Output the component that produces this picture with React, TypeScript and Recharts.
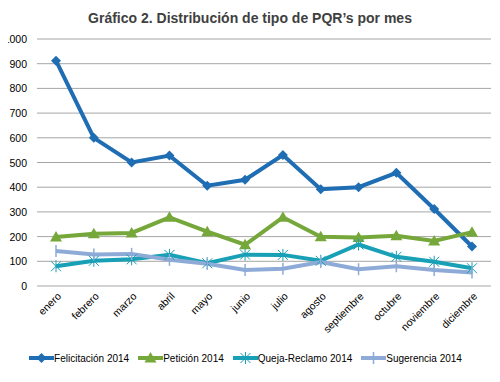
import { LineChart, Line, XAxis, YAxis, CartesianGrid, Legend } from "recharts";

const months = [
  "enero", "febrero", "marzo", "abril", "mayo", "junio",
  "julio", "agosto", "septiembre", "octubre", "noviembre", "diciembre",
];
const felicitacion = [912, 600, 500, 528, 406, 430, 530, 392, 400, 458, 312, 160];
const peticion = [198, 212, 215, 278, 220, 167, 278, 199, 196, 203, 182, 218];
const quejaReclamo = [80, 102, 108, 126, 92, 127, 126, 102, 168, 118, 98, 72];
const sugerencia = [142, 128, 130, 106, 90, 65, 70, 97, 68, 80, 65, 55];
const yTicks = [0, 100, 200, 300, 400, 500, 600, 700, 800, 900, 1000];

const series = [
  { key: "felicitacion", name: "Felicitación 2014", color: "#1f6db3", marker: "diamond" },
  { key: "peticion", name: "Petición 2014", color: "#76a73a", marker: "triangle" },
  { key: "queja", name: "Queja-Reclamo 2014", color: "#18a0b6", marker: "star" },
  { key: "sugerencia", name: "Sugerencia 2014", color: "#8eabd8", marker: "plus" },
];

const data = months.map((m, i) => ({
  month: m,
  felicitacion: felicitacion[i],
  peticion: peticion[i],
  queja: quejaReclamo[i],
  sugerencia: sugerencia[i],
}));

const FONT = "'Liberation Sans', Arial, sans-serif";

function Marker({ kind, cx, cy, color }: { kind: string; cx: number; cy: number; color: string }) {
  if (kind === "diamond") {
    const r = 5;
    return <path d={`M${cx},${cy - r}L${cx + r},${cy}L${cx},${cy + r}L${cx - r},${cy}Z`} fill={color} />;
  }
  if (kind === "triangle") {
    const r = 6;
    return <path d={`M${cx},${cy - r}L${cx + r},${cy + r * 0.75}L${cx - r},${cy + r * 0.75}Z`} fill={color} />;
  }
  if (kind === "star") {
    const r = 5;
    return (
      <g stroke={color} strokeWidth={1}>
        <line x1={cx - r} y1={cy - r} x2={cx + r} y2={cy + r} />
        <line x1={cx - r} y1={cy + r} x2={cx + r} y2={cy - r} />
        <line x1={cx} y1={cy - r - 1} x2={cx} y2={cy + r + 1} />
      </g>
    );
  }
  return <line x1={cx} y1={cy - 6} x2={cx} y2={cy + 6} stroke={color} strokeWidth={1.5} />;
}

function makeDot(kind: string, color: string) {
  return (props: any) => {
    const { cx, cy, index } = props;
    if (cx == null || cy == null) return <g key={index} />;
    return (
      <g key={index}>
        <Marker kind={kind} cx={cx} cy={cy} color={color} />
      </g>
    );
  };
}

function MonthTick(props: any) {
  const { x, y, payload } = props;
  return (
    <g transform={`translate(${x + 3},${y})`}>
      <text
        x={0}
        y={0}
        dy={4}
        textAnchor="end"
        transform="rotate(-45)"
        fontSize={10.5}
        fontFamily={FONT}
        fill="#000"
      >
        {payload.value}
      </text>
    </g>
  );
}

function ValueTick(props: any) {
  const { y, payload } = props;
  return (
    <text x={27} y={y} dy={4} textAnchor="end" fontSize={10.5} fontFamily={FONT} fill="#000">
      {payload.value}
    </text>
  );
}

function LegendContent() {
  return (
    <div
      style={{
        display: "flex",
        justifyContent: "center",
        gap: 9,
        fontFamily: FONT,
        fontSize: 10,
        paddingLeft: 0,
      }}
    >
      {series.map((s) => (
        <div key={s.key} style={{ display: "flex", alignItems: "center" }}>
          <svg width={25} height={12}>
            <line x1={0} y1={6} x2={25} y2={6} stroke={s.color} strokeWidth={4} />
            <Marker kind={s.marker} cx={12.5} cy={6} color={s.color} />
          </svg>
          <span style={{ color: "#000" }}>{s.name}</span>
        </div>
      ))}
    </div>
  );
}

export default function App() {
  return (
    <div style={{ width: 500, height: 382, margin: -8, background: "#fff", position: "relative" }}>
      <div
        style={{
          position: "absolute",
          top: 10,
          left: 0,
          width: 500,
          textAlign: "center",
          fontFamily: FONT,
          fontWeight: "bold",
          fontSize: 14,
          color: "#404040",
        }}
      >
        Gráfico 2. Distribución de tipo de PQR’s por mes
      </div>
      <LineChart
        width={500}
        height={382}
        data={data}
        margin={{ top: 39, right: 9, left: 0, bottom: 10 }}
      >
        <CartesianGrid vertical={false} stroke="#a6a6a6" />
        <XAxis
          dataKey="month"
          axisLine={false}
          tickLine={false}
          interval={0}
          height={66}
          padding={{ left: 19, right: 19 }}
          tick={<MonthTick />}
        />
        <YAxis
          domain={[0, 1000]}
          ticks={yTicks}
          width={37}
          axisLine={false}
          tickLine={false}
          tick={<ValueTick />}
        />
        <Legend verticalAlign="bottom" height={20} content={<LegendContent />} />
        {series.map((s) => (
          <Line
            key={s.key}
            type="linear"
            dataKey={s.key}
            name={s.name}
            stroke={s.color}
            strokeWidth={4}
            dot={makeDot(s.marker, s.color)}
            activeDot={false}
            isAnimationActive={false}
          />
        ))}
      </LineChart>
    </div>
  );
}
